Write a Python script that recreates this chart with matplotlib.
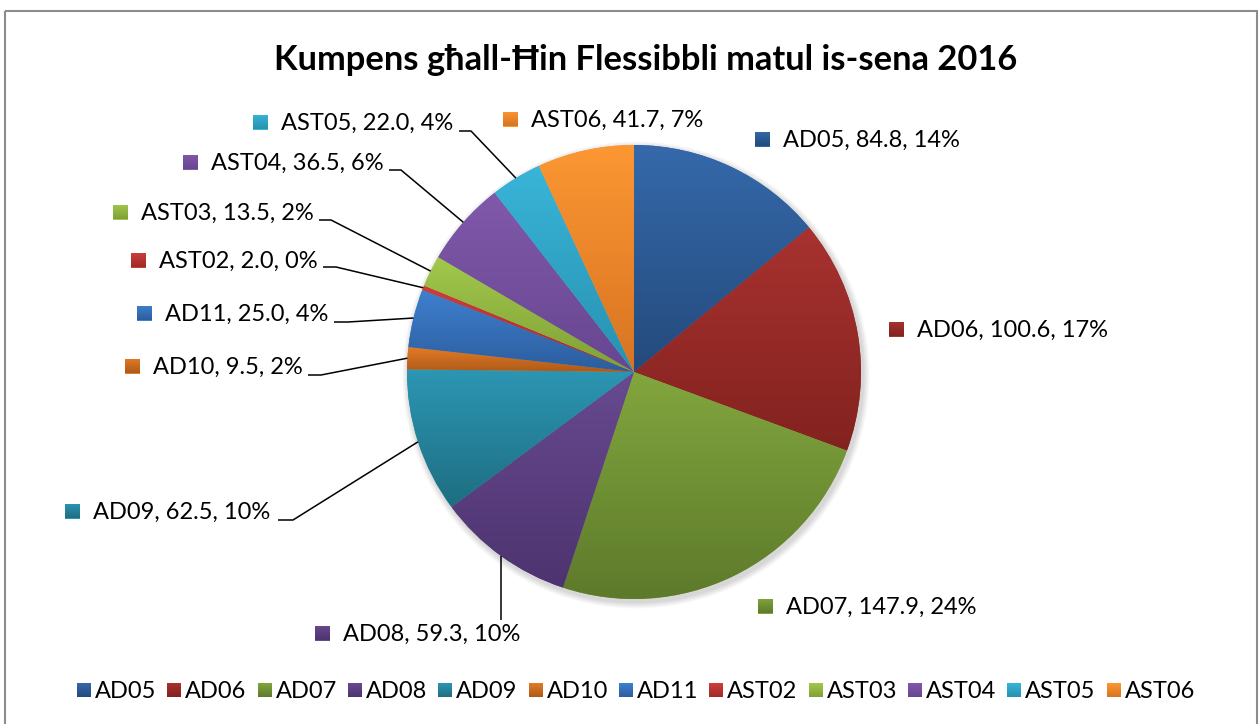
import matplotlib
matplotlib.use('Agg')
import matplotlib.pyplot as plt
import numpy as np
from matplotlib.patches import Rectangle, Circle
from matplotlib.colors import to_rgb

# ---------------- data ----------------
title = "Kumpens għall-Ħin Flessibbli matul is-sena 2016"
categories = ['AD05', 'AD06', 'AD07', 'AD08', 'AD09', 'AD10', 'AD11',
              'AST02', 'AST03', 'AST04', 'AST05', 'AST06']
values = [84.8, 100.6, 147.9, 59.3, 62.5, 9.5, 25.0, 2.0, 13.5, 36.5, 22.0, 41.7]

# ---------------- style ----------------
top_colors = ['#3569aa', '#a8322f', '#82a63e', '#684a90', '#2c96b3', '#e27c27',
              '#3f80cf', '#cf3e3b', '#a2c84c', '#8159ab', '#39b5d8', '#fc9733']
bot_colors = ['#244a7c', '#82221f', '#5d7a2b', '#4d336f', '#1e6e81', '#ae5918',
              '#2c5d9e', '#9e2b29', '#7fa037', '#674690', '#2891b0', '#d87322']

W, H = 1260, 724
CX, CY, R = 634, 372, 227
FONT = 'Lato'

# label layout (image pixels): marker left x, centre y, leader elbow points
label_layout = {
    'AD05':  (755, 139, []),
    'AD06':  (889, 329, []),
    'AD07':  (758, 606, []),
    'AD08':  (315, 633, [(501, 620)]),
    'AD09':  (65, 511, [(278, 520), (293, 520)]),
    'AD10':  (125, 366, [(308, 375), (321, 375)]),
    'AD11':  (137, 313, [(334, 322), (348, 322)]),
    'AST02': (131, 260, [(323, 267), (336, 267)]),
    'AST03': (113, 212, [(319, 220), (331, 220)]),
    'AST04': (183, 162, [(389, 170), (401, 170)]),
    'AST05': (253, 122, [(459, 131), (471, 131)]),
    'AST06': (503, 119, []),
}

fig = plt.figure(figsize=(W / 100, H / 100), dpi=100)
ax = fig.add_axes([0, 0, 1, 1])


def gradient_fill(patch, c_top, c_bot, bbox=None, z=3):
    if bbox is None:
        ext = patch.get_path().get_extents(patch.get_patch_transform())
        x0, y0, x1, y1 = ext.x0, ext.y0, ext.x1, ext.y1
    else:
        x0, y0, x1, y1 = bbox
    t = np.linspace(0, 1, 256)[:, None]
    a = np.array(to_rgb(c_top))
    b = np.array(to_rgb(c_bot))
    img = (a[None, :] * (1 - t) + b[None, :] * t)[:, None, :]
    im = ax.imshow(img, extent=(x0, x1, y1, y0), origin='upper',
                   aspect='auto', zorder=z, interpolation='bilinear')
    im.set_clip_path(patch)


# soft shadow
for k in range(8):
    ax.add_patch(Circle((CX + 2, CY + 3), R + 1 + k * 0.8, facecolor='black',
                        alpha=0.018, edgecolor='none', zorder=1))

wedges, _ = ax.pie(values, center=(CX, CY), radius=R, startangle=-90,
                   counterclock=True, frame=True,
                   colors=top_colors, wedgeprops=dict(linewidth=0))
for w, ct, cb in zip(wedges, top_colors, bot_colors):
    w.set_zorder(2)
    gradient_fill(w, ct, cb, z=3)

total = sum(values)
cum = np.cumsum([0] + values[:-1])
fs = 17
for i, cat in enumerate(categories):
    v = values[i]
    mid = (cum[i] + v / 2) / total * 360.0
    px = CX + R * np.sin(np.radians(mid))
    py = CY - R * np.cos(np.radians(mid))
    mx, my, elbows = label_layout[cat]
    sq = Rectangle((mx, my - 7.5), 15, 15, facecolor=top_colors[i],
                   edgecolor='none', zorder=4)
    ax.add_patch(sq)
    gradient_fill(sq, top_colors[i], bot_colors[i], bbox=(mx, my - 7.5, mx + 15, my + 7.5), z=5)
    pct = round(v / total * 100)
    ax.text(mx + 28, my + 1, f"{cat}, {v:.1f}, {pct}%", fontsize=fs,
            family=FONT, va='center', ha='left', color='#000000', zorder=6)
    if elbows:
        pts = elbows + [(px, py)]
        xs, ys = zip(*pts)
        ax.plot(xs, ys, color='black', lw=1.1, zorder=6, solid_capstyle='butt')

# title
ax.text(646, 60, title, fontsize=24.8, fontweight='bold', family=FONT,
        ha='center', va='center', zorder=6)

# legend (manual, one row)
renderer = fig.canvas.get_renderer()
x = 77
ly = 690
for i, cat in enumerate(categories):
    sq = Rectangle((x, ly - 7), 14, 14, facecolor=top_colors[i], edgecolor='none', zorder=4)
    ax.add_patch(sq)
    gradient_fill(sq, top_colors[i], bot_colors[i], bbox=(x, ly - 7, x + 14, ly + 7), z=5)
    t = ax.text(x + 18, ly + 1, cat, fontsize=fs, family=FONT, va='center', ha='left', zorder=6)
    bb = t.get_window_extent(renderer=renderer)
    x = x + 18 + bb.width + 11

# outer border
ax.add_patch(Rectangle((4.5, 10.5), 1252, 740, facecolor='none',
                       edgecolor='#8c8c8c', lw=1.5, zorder=7))

ax.set_xlim(0, W)
ax.set_ylim(H, 0)
ax.set_aspect('auto')
ax.axis('off')
fig.savefig('out.png', dpi=100, facecolor='white')
